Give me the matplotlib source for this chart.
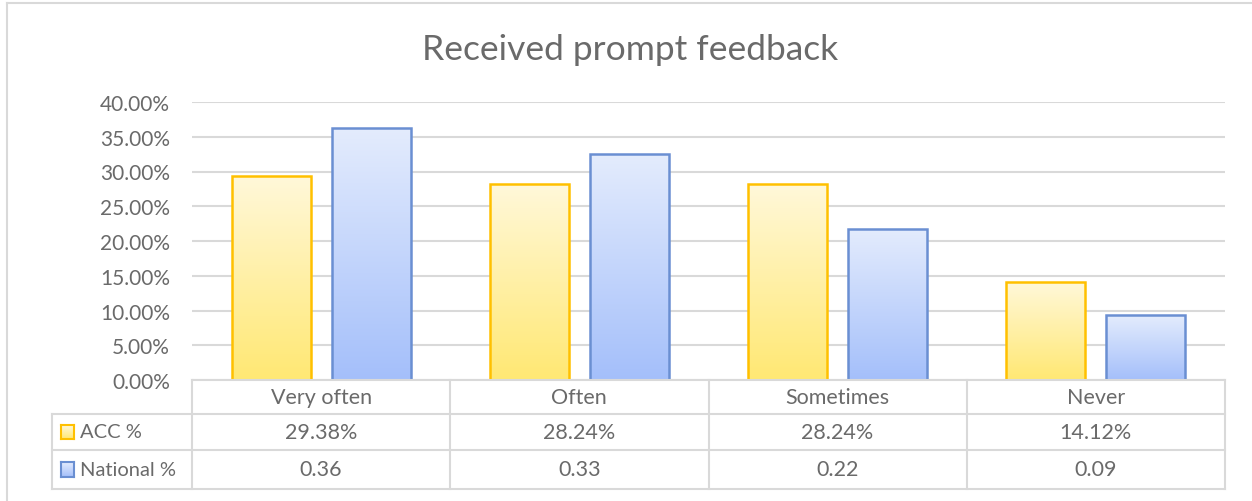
import numpy as np
import matplotlib
matplotlib.use('Agg')
import matplotlib.pyplot as plt
from matplotlib.colors import LinearSegmentedColormap
from matplotlib.patches import Rectangle
from matplotlib.transforms import blended_transform_factory

plt.rcParams['font.family'] = ['Lato', 'DejaVu Sans']

categories = ['Very often', 'Often', 'Sometimes', 'Never']
acc_pct = [0.2938, 0.2824, 0.2824, 0.1412]
national_pct = [0.3626, 0.3253, 0.2176, 0.0935]
series_names = ['ACC %', 'National %']
yticks = [0.0, 0.05, 0.10, 0.15, 0.20, 0.25, 0.30, 0.35, 0.40]

TEXT = '#6A6A6A'
GRID = '#D9D9D9'
yellow_map = LinearSegmentedColormap.from_list('y', ['#FFE873', '#FFF8DA'])
blue_map = LinearSegmentedColormap.from_list('b', ['#A4BFFA', '#E4ECFD'])
yellow_edge = '#FFC000'
blue_edge = '#6A8FD2'

W, H = 1252, 502
fig = plt.figure(figsize=(W / 100, H / 100), dpi=100)

def fx(px):
    return px / W

def fy(py):
    return 1 - py / H

# plot area in pixel coordinates
left, right, top, bottom = 192, 1225, 103, 381
ax = fig.add_axes([fx(left), fy(bottom), fx(right - left), fy(top) - fy(bottom)])

x = np.arange(len(categories))
bw = 0.306
off = 0.194
grad = np.linspace(0, 1, 256).reshape(-1, 1)


def gradient_bars(xs, vals, cmap, edge):
    for xi, v in zip(xs, vals):
        im = ax.imshow(grad, cmap=cmap, aspect='auto', origin='lower',
                       extent=[xi - bw / 2, xi + bw / 2, 0, v], zorder=3)
        r = Rectangle((xi - bw / 2, 0), bw, v, facecolor='none',
                      edgecolor=edge, linewidth=1.8, zorder=4)
        ax.add_patch(r)
        im.set_clip_path(r)


gradient_bars(x - off, acc_pct, yellow_map, yellow_edge)
gradient_bars(x + off, national_pct, blue_map, blue_edge)

ax.set_xlim(-0.5, len(categories) - 0.5)
ax.set_ylim(0, 0.40)
ax.set_yticks(yticks)
ax.set_yticklabels(['{:.2f}%'.format(t * 100) for t in yticks], color=TEXT, fontsize=15)
ax.set_xticks([])
ax.tick_params(axis='y', length=0, pad=16)
ax.grid(axis='y', color=GRID, linewidth=1.5, zorder=0)
ax.set_axisbelow(True)
for s in ax.spines.values():
    s.set_visible(False)

# title
fig.text(fx(630), fy(50), 'Received prompt feedback', ha='center', va='center',
         fontsize=25.5, color=TEXT)

# outer chart border
fig.add_artist(plt.Line2D([fx(7), fx(7)], [fy(4), 0], color=GRID, lw=1.5))
fig.add_artist(plt.Line2D([fx(7), 1], [fy(4), fy(4)], color=GRID, lw=1.5))

# data table under the plot
tr = blended_transform_factory(ax.transData, fig.transFigure)
rows_px = [381, 415, 451, 490]
x_legend = (52 - left) / ((right - left) / len(categories)) - 0.5
x_end = len(categories) - 0.5
lk = dict(color=GRID, lw=1.5, transform=tr, clip_on=False)
# horizontal lines
fig.add_artist(plt.Line2D([-0.5, x_end], [fy(rows_px[0])] * 2, **lk))
for r in rows_px[1:]:
    fig.add_artist(plt.Line2D([x_legend, x_end], [fy(r)] * 2, **lk))
# vertical lines
fig.add_artist(plt.Line2D([x_legend, x_legend], [fy(rows_px[1]), fy(rows_px[3])], **lk))
for b in np.arange(-0.5, len(categories), 1.0):
    fig.add_artist(plt.Line2D([b, b], [fy(rows_px[0]), fy(rows_px[3])], **lk))

fs = 15.5
for xi, cat in zip(x, categories):
    fig.text(xi, fy((rows_px[0] + rows_px[1]) / 2), cat, transform=tr,
             ha='center', va='center', fontsize=fs, color=TEXT)
for xi, v in zip(x, acc_pct):
    fig.text(xi, fy((rows_px[1] + rows_px[2]) / 2), '{:.2f}%'.format(v * 100),
             transform=tr, ha='center', va='center', fontsize=fs, color=TEXT)
for xi, v in zip(x, national_pct):
    fig.text(xi, fy((rows_px[2] + rows_px[3]) / 2), '{:.2f}'.format(v),
             transform=tr, ha='center', va='center', fontsize=fs, color=TEXT)

# legend keys inside the table
keys = [(yellow_map, yellow_edge), (blue_map, blue_edge)]
for i, (name, (cmap, edge)) in enumerate(zip(series_names, keys)):
    yc = (rows_px[i + 1] + rows_px[i + 2]) / 2
    kax = fig.add_axes([fx(61), fy(yc + 7), fx(13), fy(yc - 7) - fy(yc + 7)])
    kax.imshow(grad, cmap=cmap, aspect='auto', origin='lower', extent=[0, 1, 0, 1])
    kax.set_xticks([])
    kax.set_yticks([])
    for s in kax.spines.values():
        s.set_color(edge)
        s.set_linewidth(1.5)
    fig.text(fx(80), fy(yc), name, ha='left', va='center', fontsize=14.5, color=TEXT)

fig.savefig('out.png', dpi=100)
